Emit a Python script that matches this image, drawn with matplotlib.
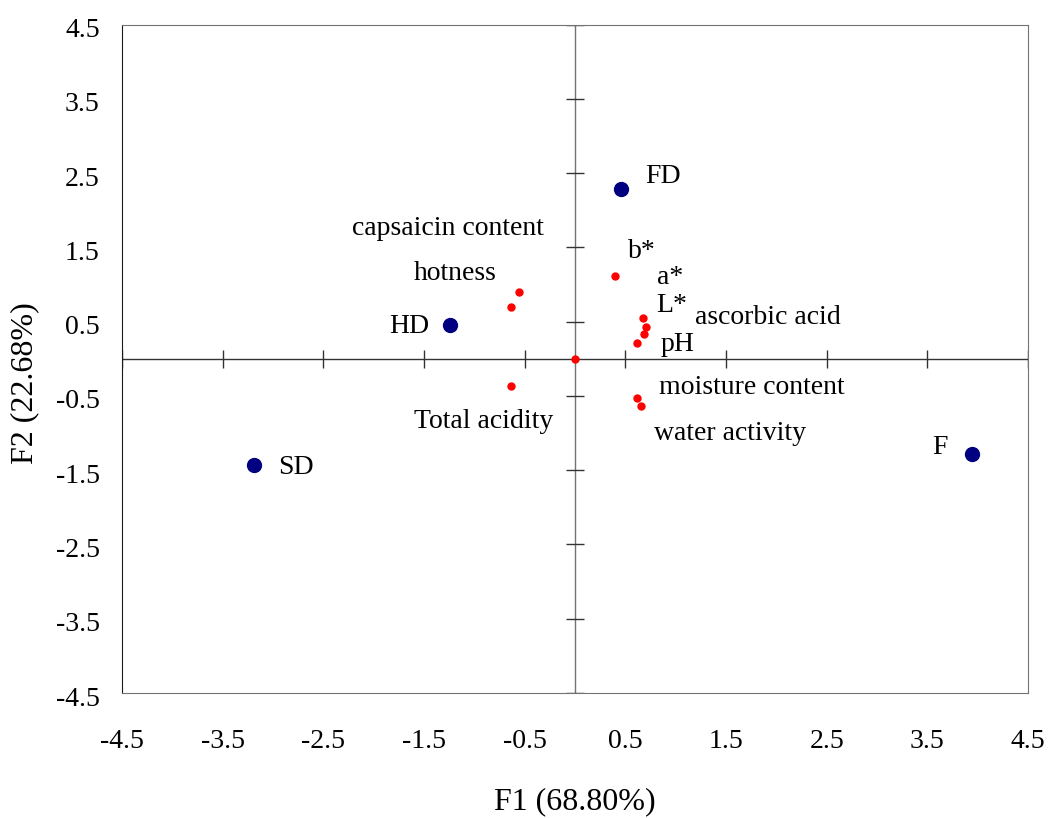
import numpy as np
import matplotlib.pyplot as plt
import matplotlib.transforms as mtransforms

plt.rcParams['font.family'] = ['Liberation Serif', 'DejaVu Serif']
plt.rcParams['axes.unicode_minus'] = False

# ── 数据：观测点（样品） ──
obs_names = ['FD', 'HD', 'SD', 'F']
obs_f1 = [0.46, -1.24, -3.19, 3.94]
obs_f2 = [2.28, 0.45, -1.43, -1.28]
# 标签位置与对齐
obs_lab_x = [0.70, -1.45, -2.95, 3.70]
obs_lab_y = [2.45, 0.44, -1.46, -1.19]
obs_lab_ha = ['left', 'right', 'left', 'right']

# ── 数据：变量点 ──
var_names = ['capsaicin content', 'hotness', 'b*', 'L*', 'a*', 'ascorbic acid',
             'pH', '', 'Total acidity', 'moisture content', 'water activity']
var_f1 = [-0.56, -0.64, 0.40, 0.675, 0.71, 0.69, 0.62, 0.0, -0.64, 0.62, 0.655]
var_f2 = [0.90, 0.70, 1.12, 0.55, 0.43, 0.33, 0.21, 0.0, -0.37, -0.53, -0.64]
var_lab_x = [-1.26, -1.19, 0.53, 0.81, 0.81, 1.19, 0.85, 0, -0.91, 0.83, 0.78]
var_lab_y = [1.76, 1.15, 1.44, 0.72, 1.10, 0.55, 0.19, 0, -0.84, -0.39, -1.00]
var_lab_ha = ['center', 'center', 'left', 'left', 'left', 'left', 'left', 'left',
              'center', 'left', 'left']

ticks = np.arange(-4.5, 4.6, 1.0)
tick_labels = ['%.1f' % t for t in ticks]

fig = plt.figure(figsize=(10.49, 8.18), dpi=100)
ax = fig.add_axes([122 / 1049, 1 - 693 / 818, 906 / 1049, 668.5 / 818])

# 中心十字轴及刻度
ax.axhline(0, color='0.2', linewidth=1.0, zorder=1)
ax.axvline(0, color='0.45', linewidth=1.0, zorder=1)
ax.plot(ticks, np.zeros_like(ticks), linestyle='none', marker='|',
        markersize=13, markeredgewidth=1.0, color='0.2', zorder=1)
ax.plot(np.zeros_like(ticks), ticks, linestyle='none', marker='_',
        markersize=13, markeredgewidth=1.0, color='0.2', zorder=1)

# 点
ax.plot(var_f1, var_f2, 'o', color='#ff0000', markersize=5, zorder=3)
ax.plot(obs_f1, obs_f2, 'o', color='#000080', markersize=10, zorder=3)

for name, x, y, ha in zip(var_names, var_lab_x, var_lab_y, var_lab_ha):
    if name:
        ax.text(x, y, name, fontsize=20, ha=ha, va='center')
for name, x, y, ha in zip(obs_names, obs_lab_x, obs_lab_y, obs_lab_ha):
    ax.text(x, y, name, fontsize=20, ha=ha, va='center')

ax.set_xlim(-4.5, 4.5)
ax.set_ylim(-4.5, 4.5)
ax.set_xticks(ticks)
ax.set_yticks(ticks)
ax.set_xticklabels(tick_labels)
ax.set_yticklabels(tick_labels)
ax.tick_params(axis='both', length=0, labelsize=20)
ax.tick_params(axis='x', pad=26)
ax.tick_params(axis='y', pad=16)

# y 刻度标签略向下偏移
shift = mtransforms.ScaledTranslation(0, -3 / 100, fig.dpi_scale_trans)
for lab in ax.get_yticklabels():
    lab.set_transform(lab.get_transform() + shift)

for s in ['top', 'right', 'bottom']:
    ax.spines[s].set_color('0.45')
ax.spines['left'].set_color('0.1')

fig.text(575 / 1049, 1 - 802 / 818, 'F1 (68.80%)', fontsize=23, ha='center', va='center')
fig.text(25 / 1049, 1 - 383 / 818, 'F2 (22.68%)', fontsize=23, ha='center', va='center',
         rotation=90)

plt.savefig('out.png', dpi=100, facecolor='white')
plt.close()
